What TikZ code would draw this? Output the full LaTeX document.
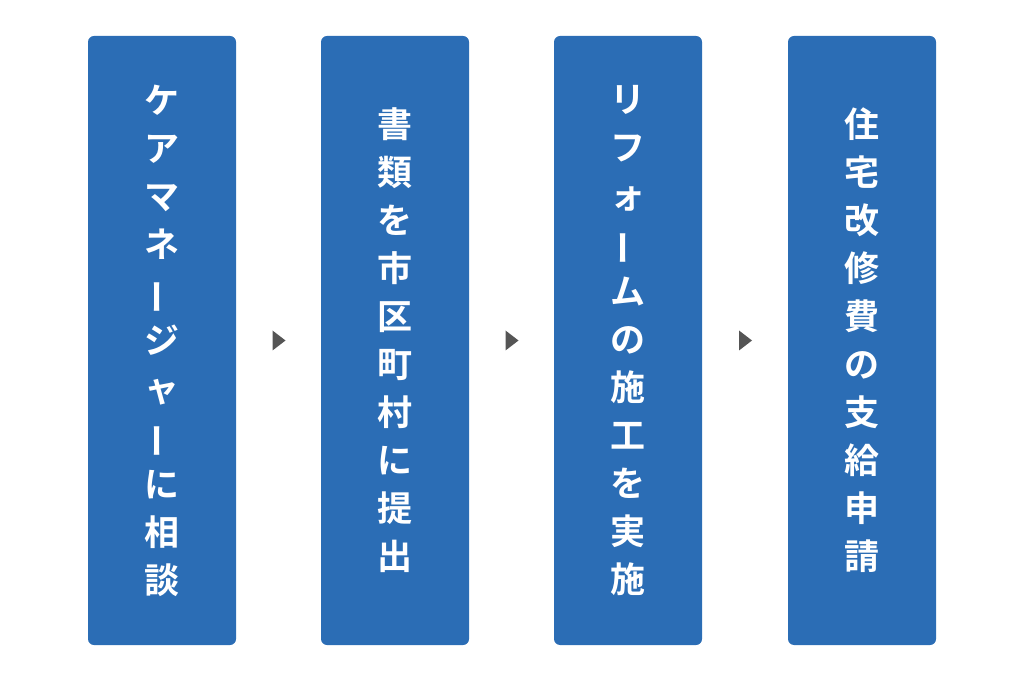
\documentclass[tikz,border=0pt]{standalone}
\usepackage{fontspec}
\newfontfamily\jpfont{Noto Sans CJK JP}[BoldFont={* Bold}]
\usetikzlibrary{positioning,calc}
\definecolor{stepblue}{HTML}{2B6DB5}
\definecolor{arrowgrey}{HTML}{555555}
\newcommand{\vbar}{\rotatebox[origin=c]{90}{ー}}
\tikzset{
  stepbox/.style={fill=stepblue, rounded corners=6pt, minimum width=148pt, minimum height=609pt, inner sep=0pt},
  steptext/.style={text=white, font=\jpfont\bfseries\fontsize{35}{48}\selectfont, align=center},
  steparrow/.style={fill=arrowgrey}
}
\begin{document}
\begin{tikzpicture}[x=1pt,y=1pt]
\useasboundingbox (0,0) rectangle (1024,683);
\node[stepbox] (s1) at (162,342.5) {};
\node[stepbox] (s2) at (395,342.5) {};
\node[stepbox] (s3) at (628,342.5) {};
\node[stepbox] (s4) at (862,342.5) {};
\node[steptext] (t1) at (s1) {ケ\\ア\\マ\\ネ\\\vbar\\ジ\\ャ\\\vbar\\に\\相\\談};
\node[steptext] (t2) at (s2) {書\\類\\を\\市\\区\\町\\村\\に\\提\\出};
\node[steptext] (t3) at (s3) {リ\\フ\\ォ\\\vbar\\ム\\の\\施\\工\\を\\実\\施};
\node[steptext] (t4) at (s4) {住\\宅\\改\\修\\費\\の\\支\\給\\申\\請};
% small triangles between the steps
\foreach \a/\b in {s1/s2,s2/s3,s3/s4}
  \path[steparrow] ($(\a.east)!0.5!(\b.west)+(-6,10)$) -- ++(13,-10) -- ++(-13,-10) -- cycle;
\end{tikzpicture}
\end{document}
